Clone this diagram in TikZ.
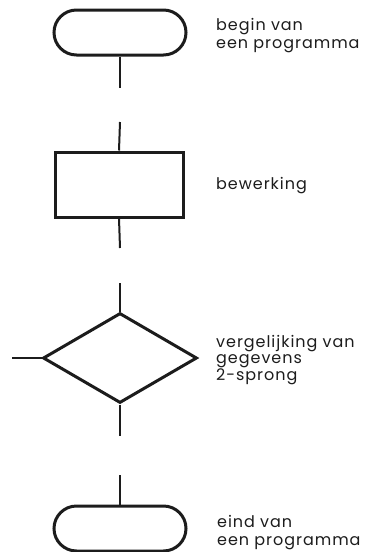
\documentclass[tikz,border=0pt]{standalone}
\usepackage{fontspec}
\setmainfont{Poppins}
\newfontfamily\capfont[LetterSpace=6]{Poppins}
\usetikzlibrary{shapes.misc,shapes.geometric}
\definecolor{ink}{HTML}{1C1C1C}
\begin{document}
\begin{tikzpicture}[x=1pt,y=-1pt,
  symbol/.style={draw=ink,line width=3pt,inner sep=0pt},
  terminal/.style={symbol,rounded rectangle,minimum width=132pt,minimum height=45pt},
  process/.style={symbol,rectangle,minimum width=128pt,minimum height=65pt},
  decision/.style={symbol,diamond,minimum width=154pt,minimum height=90pt,aspect=1.7},
  flow/.style={draw=ink,line width=2pt},
  % base anchor of a multi-line caption sits on its last line
  caption/.style={anchor=base west,inner sep=0pt,text=ink,font=\capfont\fontsize{16}{18}\selectfont,align=left}]
  \useasboundingbox (0,0) rectangle (367,552);

  % symbols
  \node[terminal] (begin) at (120,32.5) {};
  \node[process] (work) at (119,184.5) {};
  \node[decision] (cmp) at (120,358) {};
  \node[terminal] (end) at (120,528.5) {};

  % loose ends of the broken flow lines
  \coordinate (a1) at (120,88);
  \coordinate (a2) at (120,122);
  \coordinate (b1) at (120,248);
  \coordinate (b2) at (120,283);
  \coordinate (c0) at (12,358);
  \coordinate (c1) at (120,436);
  \coordinate (c2) at (120,475);

  \draw[flow] (begin.south) -- (a1);
  \draw[flow] (a2) -- (work.north);
  \draw[flow] (work.south) -- (b1);
  \draw[flow] (b2) -- (cmp.north);
  \draw[flow] (cmp.west) -- (c0);
  \draw[flow] (cmp.south) -- (c1);
  \draw[flow] (c2) -- (end.north);

  % descriptions
  \node[caption] (t1) at (216,48) {begin van\\een programma};
  \node[caption] (t2) at (216,189) {bewerking};
  \node[caption,font=\capfont\fontsize{16}{16.5}\selectfont] (t3) at (216,380) {vergelijking van\\gegevens\\2-sprong};
  \node[caption] (t4) at (217,545) {eind van\\een programma};
\end{tikzpicture}
\end{document}
